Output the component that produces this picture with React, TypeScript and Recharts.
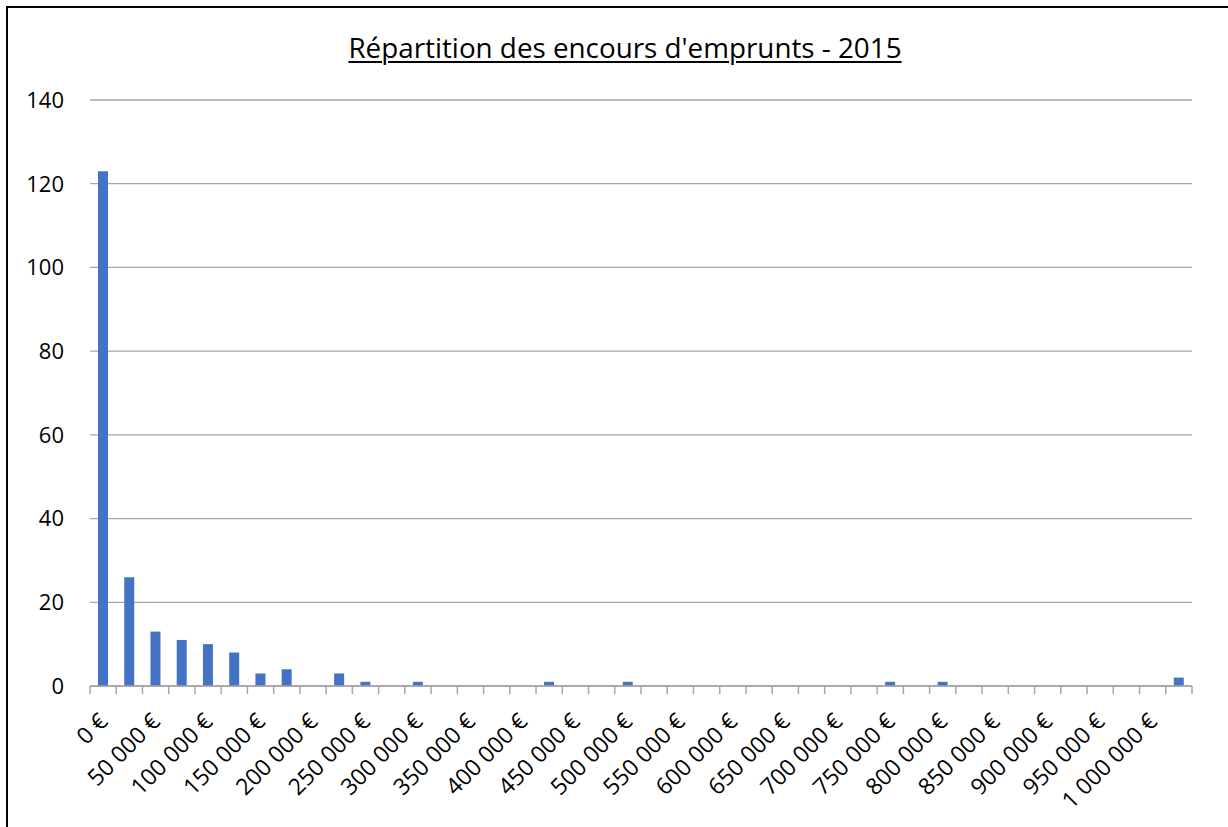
import React from 'react';
import { BarChart, Bar, XAxis, YAxis, CartesianGrid } from 'recharts';

// Number of loans per 25 000 € bin (bin i starts at i * 25 000 €)
const binCounts: number[] = [
  123, 26, 13, 11, 10, 8, 3, 4, 0, 3,
  1, 0, 1, 0, 0, 0, 0, 1, 0, 0,
  1, 0, 0, 0, 0, 0, 0, 0, 0, 0,
  1, 0, 1, 0, 0, 0, 0, 0, 0, 0,
  0, 2,
];

// Labels shown on every other bin (0, 2, 4, ... 40)
const tickLabels: string[] = [
  '0 €', '50 000 €', '100 000 €', '150 000 €', '200 000 €', '250 000 €',
  '300 000 €', '350 000 €', '400 000 €', '450 000 €', '500 000 €',
  '550 000 €', '600 000 €', '650 000 €', '700 000 €', '750 000 €',
  '800 000 €', '850 000 €', '900 000 €', '950 000 €', '1 000 000 €',
];

const yTicks: number[] = [0, 20, 40, 60, 80, 100, 120, 140];

const title = "Répartition des encours d'emprunts - 2015";

const data = binCounts.map((count, idx) => ({ idx, count }));
const nBins = binCounts.length;

// boundaries between bins (tick marks) + centers of labelled bins
const boundaryTicks = Array.from({ length: nBins + 1 }, (_, i) => i - 0.5);
const labelTicks = tickLabels.map((_, i) => i * 2);
const xTicks = [...boundaryTicks, ...labelTicks].sort((a, b) => a - b);

const FONT = '"Open Sans", sans-serif';
const GRID = '#A6A6A6';

const XTick = (props: any) => {
  const { x, y, payload } = props;
  const v = payload.value as number;
  if (!Number.isInteger(v)) {
    return <line x1={x} y1={y} x2={x} y2={y + 8} stroke={GRID} strokeWidth={1.5} />;
  }
  const label = tickLabels[v / 2];
  const ax = x + 6;
  const ay = y + 37;
  return (
    <text
      x={ax}
      y={ay}
      textAnchor="end"
      style={{ fontFamily: FONT, fontSize: 23 }}
      fill="#000"
      transform={`rotate(-45, ${ax}, ${ay})`}
    >
      {label}
    </text>
  );
};

const YTick = (props: any) => {
  const { x, y, payload } = props;
  return (
    <text
      x={x}
      y={y}
      dy="0.36em"
      textAnchor="end"
      style={{ fontFamily: FONT, fontSize: 22 }}
      fill="#000"
    >
      {payload.value}
    </text>
  );
};

export default function App() {
  return (
    <div style={{ position: 'relative', width: 1220, height: 819, background: '#fff' }}>
      <div
        style={{
          position: 'fixed',
          left: 6,
          top: 6,
          width: 1240,
          height: 840,
          borderTop: '2px solid #000',
          borderLeft: '2px solid #000',
          boxSizing: 'border-box',
          pointerEvents: 'none',
          zIndex: 10,
        }}
      />
      <div
        style={{
          position: 'absolute',
          left: 317,
          top: 23,
          width: 600,
          textAlign: 'center',
          fontFamily: FONT,
          fontSize: 27.8,
          lineHeight: '32px',
          color: '#000',
          textDecoration: 'underline',
          textUnderlineOffset: '3px',
          textDecorationThickness: '1.5px',
          whiteSpace: 'nowrap',
          zIndex: 5,
        }}
      >
        {title}
      </div>
      <BarChart
        width={1220}
        height={819}
        data={data}
        margin={{ top: 92, right: 36, left: 20, bottom: 11 }}
        barSize={10}
      >
        <CartesianGrid vertical={false} stroke={GRID} strokeWidth={1.3} />
        <XAxis
          type="number"
          dataKey="idx"
          domain={[-0.5, nBins - 0.5]}
          ticks={xTicks}
          interval={0}
          tickLine={false}
          tickSize={0}
          tickMargin={0}
          axisLine={{ stroke: GRID, strokeWidth: 1.5 }}
          tick={<XTick />}
          height={130}
          allowDecimals
        />
        <YAxis
          domain={[0, 140]}
          ticks={yTicks}
          interval={0}
          axisLine={false}
          tickLine={false}
          tickSize={0}
          tickMargin={26}
          width={62}
          tick={<YTick />}
        />
        <Bar dataKey="count" fill="#4472C4" isAnimationActive={false} />
      </BarChart>
    </div>
  );
}
